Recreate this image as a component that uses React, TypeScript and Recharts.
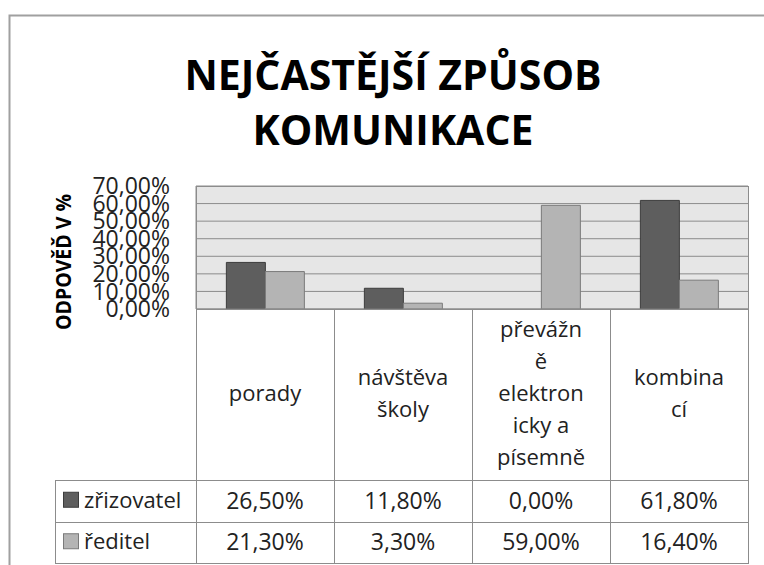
import { BarChart, Bar, XAxis, YAxis, CartesianGrid } from 'recharts'

const categories = ['porady', 'návštěva školy', 'převážně elektronicky a písemně', 'kombinací']
// wrapped the way the source table breaks them
const categoryLines = [
  ['porady'],
  ['návštěva', 'školy'],
  ['převážn', 'ě', 'elektron', 'icky a', 'písemně'],
  ['kombina', 'cí'],
]
const zrizovatel = [0.265, 0.118, 0.0, 0.618]
const reditel = [0.213, 0.033, 0.59, 0.164]
const seriesNames = ['zřizovatel', 'ředitel']
const yTicks = [0, 0.1, 0.2, 0.3, 0.4, 0.5, 0.6, 0.7]

const FONT = "'Open Sans', 'Noto Sans', sans-serif"
const DARK = '#5e5e5e'
const LIGHT = '#b4b4b4'
const LINE = '#8c8c8c'

const W = 764
const H = 565
const PLOT_L = 196
const PLOT_R = 748
const PLOT_T = 186
const PLOT_B = 309
const HEAD_B = 480
const ROW_H = 41.5
const LEG_L = 55

const data = categories.map((name, i) => ({
  name,
  zrizovatel: zrizovatel[i],
  reditel: reditel[i],
}))

function pct(v: number) {
  return (v * 100).toFixed(2).replace('.', ',') + '%'
}

function CategoryTick({ x, payload }: any) {
  const lines = categoryLines[payload.index] ?? [payload.value]
  const lh = 32
  const start = 401 - ((lines.length - 1) * lh) / 2
  return (
    <text x={x} y={start} textAnchor="middle" fontFamily={FONT} fontSize={22} fill="#222">
      {lines.map((l: string, i: number) => (
        <tspan key={i} x={x} y={start + i * lh}>
          {l}
        </tspan>
      ))}
    </text>
  )
}

export default function App() {
  const colW = (PLOT_R - PLOT_L) / categories.length
  const rows = [zrizovatel, reditel]
  const colors = [DARK, LIGHT]
  const tableB = HEAD_B + 2 * ROW_H
  return (
    <div style={{ position: 'absolute', left: 0, top: 0, width: W, height: H, background: '#fff' }}>
      <BarChart
        width={W}
        height={H}
        data={data}
        barGap={0}
        barCategoryGap="22%"
        margin={{ top: PLOT_T, right: W - PLOT_R, bottom: H - HEAD_B, left: PLOT_L - 120 }}
      >
        <CartesianGrid vertical={false} stroke={LINE} fill="#e6e6e6" fillOpacity={1} />
        <XAxis
          dataKey="name"
          height={HEAD_B - PLOT_B}
          tick={<CategoryTick />}
          tickLine={false}
          axisLine={{ stroke: LINE }}
          interval={0}
        />
        <YAxis
          width={120}
          domain={[0, 0.7]}
          ticks={yTicks}
          tickFormatter={pct}
          tickLine={false}
          axisLine={{ stroke: LINE }}
          tickSize={0}
          tickMargin={26}
          tick={{ fontFamily: FONT, fontSize: 23, fill: '#222' }}
          interval={0}
        />
        <Bar dataKey="zrizovatel" fill={DARK} stroke="#3c3c3c" isAnimationActive={false} />
        <Bar dataKey="reditel" fill={LIGHT} stroke="#7a7a7a" isAnimationActive={false} />
      </BarChart>
      <svg
        width={W}
        height={H}
        style={{ position: 'absolute', left: 0, top: 0, pointerEvents: 'none' }}
      >
        <path d={`M9.5 ${H} V15.5 H${W}`} fill="none" stroke="#a0a0a0" strokeWidth={2} />
        <text x={393} y={90} textAnchor="middle" fontFamily={FONT} fontWeight={700} fontSize={41} fill="#000">
          NEJČASTĚJŠÍ ZPŮSOB
        </text>
        <text x={393} y={145} textAnchor="middle" fontFamily={FONT} fontWeight={700} fontSize={41} fill="#000">
          KOMUNIKACE
        </text>
        <text
          transform="translate(71 262) rotate(-90)"
          textAnchor="middle"
          fontFamily={FONT}
          fontWeight={700}
          fontSize={22}
          textLength={136}
          lengthAdjust="spacingAndGlyphs"
          fill="#000"
        >
          ODPOVĚĎ V %
        </text>
        {/* plot border */}
        <rect x={PLOT_L + 0.5} y={PLOT_T + 0.5} width={PLOT_R - PLOT_L} height={PLOT_B - PLOT_T} fill="none" stroke={LINE} />
        {/* data table */}
        {categories.map((_, i) => (
          <line
            key={'v' + i}
            x1={PLOT_L + i * colW + 0.5}
            x2={PLOT_L + i * colW + 0.5}
            y1={PLOT_B}
            y2={tableB}
            stroke={LINE}
          />
        ))}
        <line x1={PLOT_R + 0.5} x2={PLOT_R + 0.5} y1={PLOT_B} y2={tableB} stroke={LINE} />
        <line x1={LEG_L + 0.5} x2={LEG_L + 0.5} y1={HEAD_B} y2={tableB} stroke={LINE} />
        {[0, 1, 2].map((r) => (
          <line
            key={'h' + r}
            x1={LEG_L}
            x2={PLOT_R + 1}
            y1={Math.round(HEAD_B + r * ROW_H) + 0.5}
            y2={Math.round(HEAD_B + r * ROW_H) + 0.5}
            stroke={LINE}
          />
        ))}
        {rows.map((vals, r) => {
          const cy = HEAD_B + r * ROW_H + ROW_H / 2
          return (
            <g key={'r' + r}>
              <rect x={63.5} y={cy - 8.5} width={15} height={15} fill={colors[r]} stroke={r ? '#7a7a7a' : '#3c3c3c'} />
              <text x={84} y={cy + 7} fontFamily={FONT} fontSize={22} fill="#222">
                {seriesNames[r]}
              </text>
              {vals.map((v, i) => (
                <text
                  key={i}
                  x={PLOT_L + (i + 0.5) * colW}
                  y={cy + 8}
                  textAnchor="middle"
                  fontFamily={FONT}
                  fontSize={23}
                  fill="#222"
                >
                  {pct(v)}
                </text>
              ))}
            </g>
          )
        })}
      </svg>
    </div>
  )
}
